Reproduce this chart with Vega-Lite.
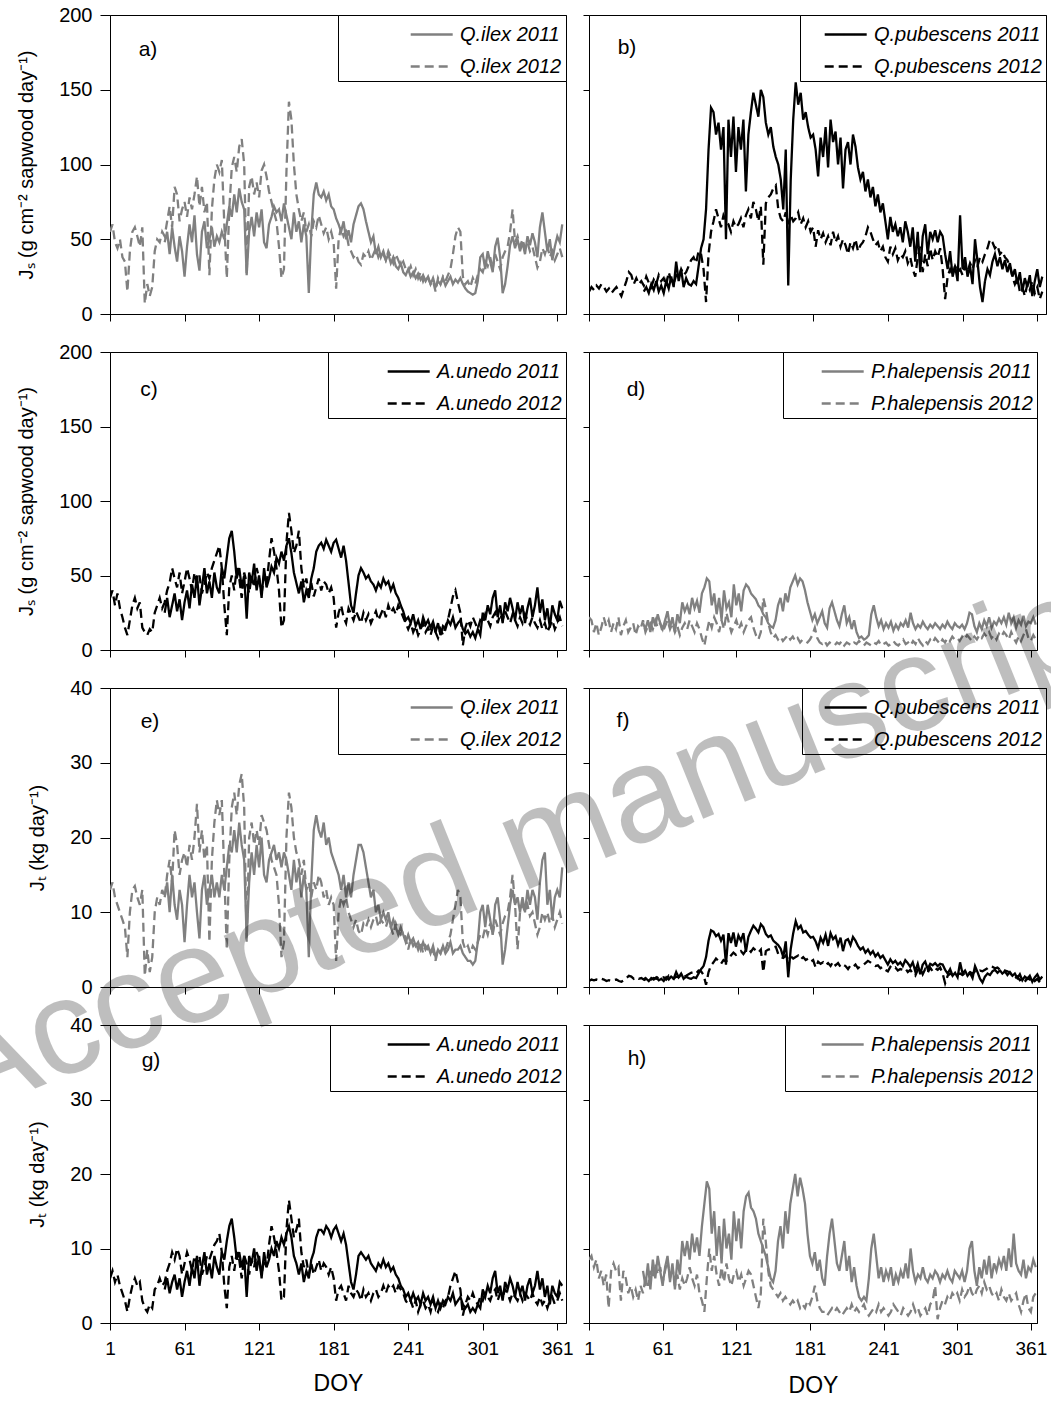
{
"$schema": "https://vega.github.io/schema/vega-lite/v6.json",
"autosize": {"type": "none"},
"padding": {"left": 110, "top": 15, "right": 941, "bottom": 1387},
"background": "white",
"datasets": {"flux": [
{"doy":1,"A":55,"B":15,"C":35,"D":22,"E":13,"F":0.8,"G":6,"H":8.5},
{"doy":3,"A":60,"B":18,"C":40,"D":20,"E":14,"F":1,"G":7,"H":9},
{"doy":5,"A":48,"B":16,"C":30,"D":12,"E":12,"F":0.9,"G":5.5,"H":7.5},
{"doy":7,"A":44,"B":19,"C":38,"D":18,"E":11,"F":1,"G":6.5,"H":8.5},
{"doy":9,"A":50,"B":17,"C":28,"D":10,"E":10,"F":0.9,"G":5,"H":6},
{"doy":11,"A":38,"B":20,"C":22,"D":15,"E":9,"F":1.1,"G":4,"H":7},
{"doy":13,"A":35,"B":18,"C":15,"D":22,"E":8,"F":1,"G":3,"H":5},
{"doy":15,"A":15,"B":15,"C":10,"D":16,"E":4,"F":0.8,"G":1.5,"H":6.5},
{"doy":17,"A":42,"B":17,"C":20,"D":20,"E":10,"F":0.9,"G":3.5,"H":2},
{"doy":19,"A":55,"B":14,"C":30,"D":12,"E":13,"F":0.8,"G":5,"H":7},
{"doy":21,"A":58,"B":16,"C":35,"D":18,"E":13.5,"F":0.9,"G":6,"H":8},
{"doy":23,"A":52,"B":18,"C":28,"D":14,"E":12,"F":1,"G":5,"H":7},
{"doy":25,"A":45,"B":15,"C":32,"D":22,"E":11,"F":0.8,"G":5.5,"H":7.5},
{"doy":27,"A":58,"B":12,"C":15,"D":10,"E":13,"F":0.7,"G":3,"H":3},
{"doy":29,"A":7,"B":17,"C":12,"D":16,"E":1.5,"F":0.9,"G":2,"H":7},
{"doy":31,"A":20,"B":22,"C":10,"D":20,"E":5,"F":1.2,"G":1.5,"H":6},
{"doy":33,"A":12,"B":28,"C":14,"D":12,"E":2,"F":1.5,"G":2.5,"H":4},
{"doy":35,"A":18,"B":26,"C":12,"D":15,"E":4,"F":1.4,"G":2,"H":5},
{"doy":37,"A":42,"B":20,"C":25,"D":18,"E":10,"F":1.1,"G":4.5,"H":3.5},
{"doy":39,"A":50,"B":24,"C":30,"D":10,"E":12,"F":1.3,"G":5,"H":4.5},
{"doy":41,"A":48,"B":20,"C":35,"D":16,"E":11,"F":1.1,"G":6,"H":3},
{"doy":43,"A":55,"B":22,"C":28,"D":14,"E":13,"F":1.2,"G":5,"H":5},
{"doy":45,"a":48,"A":52,"b":15,"B":19,"c":25,"C":32,"d":18,"D":20,"e":12,"E":12,"f":0.9,"F":1,"g":4.5,"G":5.5,"h":7,"H":4},
{"doy":47,"a":55,"A":62,"b":18,"B":25,"c":35,"C":40,"d":14,"D":12,"e":14,"E":15,"f":1.1,"F":1.3,"g":6,"G":7,"h":5,"H":6},
{"doy":49,"a":40,"A":72,"b":14,"B":21,"c":22,"C":45,"d":20,"D":16,"e":10,"E":17,"f":0.8,"F":1.1,"g":4,"G":8,"h":8,"H":5},
{"doy":51,"a":58,"A":58,"b":20,"B":18,"c":30,"C":55,"d":12,"D":18,"e":15,"E":14,"f":1.2,"F":1,"g":5.5,"G":9.5,"h":4.5,"H":7},
{"doy":53,"a":45,"A":85,"b":16,"B":23,"c":38,"C":48,"d":22,"D":14,"e":11,"E":21,"f":1,"F":1.2,"g":6.5,"G":8.5,"h":8.5,"H":6},
{"doy":55,"a":35,"A":80,"b":22,"B":20,"c":26,"C":42,"d":16,"D":20,"e":9,"E":19,"f":1.3,"F":1.1,"g":4.5,"G":10,"h":6,"H":8},
{"doy":57,"a":52,"A":62,"b":15,"B":26,"c":34,"C":52,"d":24,"D":15,"e":13,"E":15,"f":0.9,"F":1.4,"g":6,"G":9,"h":9,"H":6.5},
{"doy":59,"a":42,"A":70,"b":19,"B":22,"c":20,"C":38,"d":18,"D":18,"e":11,"E":17,"f":1.1,"F":1.2,"g":3.5,"G":6.5,"h":7,"H":7.5},
{"doy":61,"a":25,"A":75,"b":14,"B":24,"c":32,"C":46,"d":14,"D":12,"e":6,"E":18,"f":0.8,"F":1.3,"g":5.5,"G":8,"h":5,"H":5.5},
{"doy":63,"a":45,"A":65,"b":22,"B":19,"c":40,"C":55,"d":20,"D":16,"e":11,"E":16,"f":1.3,"F":1,"g":7,"G":9.5,"h":7.5,"H":7},
{"doy":65,"a":60,"A":78,"b":17,"B":28,"c":28,"C":48,"d":26,"D":20,"e":15,"E":19,"f":1,"F":1.5,"g":5,"G":8.5,"h":9,"H":8.5},
{"doy":67,"a":48,"A":70,"b":25,"B":22,"c":44,"C":40,"d":15,"D":14,"e":12,"E":17,"f":1.4,"F":1.2,"g":7.5,"G":7,"h":5.5,"H":6},
{"doy":69,"a":66,"A":80,"b":18,"B":20,"c":35,"C":52,"d":22,"D":18,"e":14,"E":20,"f":1.1,"F":1.1,"g":6,"G":9,"h":8,"H":7.5},
{"doy":71,"a":40,"A":92,"b":35,"B":26,"c":50,"C":45,"d":12,"D":12,"e":10,"E":24.5,"f":2,"F":1.4,"g":9,"G":8,"h":4.5,"H":5},
{"doy":73,"a":29,"A":72,"b":22,"B":24,"c":30,"C":50,"d":24,"D":16,"e":6.5,"E":18,"f":1.3,"F":1.3,"g":5,"G":9,"h":8.5,"H":6.5},
{"doy":75,"a":55,"A":85,"b":30,"B":30,"c":42,"C":38,"d":18,"D":10,"e":13,"E":21,"f":1.8,"F":1.6,"g":7.5,"G":6.5,"h":6.5,"H":4.5},
{"doy":77,"a":62,"A":68,"b":18,"B":26,"c":55,"C":44,"d":32,"D":15,"e":15,"E":17,"f":1.1,"F":1.4,"g":9.5,"G":7.5,"h":11,"H":6},
{"doy":79,"a":44,"A":75,"b":24,"B":28,"c":38,"C":52,"d":26,"D":18,"e":11,"E":19,"f":1.4,"F":1.5,"g":6.5,"G":9,"h":9,"H":5},
{"doy":81,"a":50,"A":26,"b":20,"B":32,"c":46,"C":48,"d":30,"D":14,"e":13,"E":6,"f":1.2,"F":1.7,"g":8,"G":8.5,"h":11,"H":6},
{"doy":83,"a":58,"A":70,"b":19,"B":36,"c":35,"C":55,"d":24,"D":20,"e":15,"E":17,"f":1.1,"F":1.9,"g":6,"G":9.5,"h":8.5,"H":7.5},
{"doy":85,"a":45,"A":90,"b":22,"B":38,"c":52,"C":60,"d":35,"D":16,"e":12,"E":22,"f":1.3,"F":2,"g":9,"G":10.5,"h":12,"H":6},
{"doy":87,"a":52,"A":100,"b":20,"B":34,"c":42,"C":65,"d":28,"D":12,"e":14,"E":25,"f":1.2,"F":1.8,"g":7.5,"G":11,"h":9.5,"H":5},
{"doy":89,"a":48,"A":95,"b":32,"B":42,"c":38,"C":70,"d":33,"D":18,"e":12,"E":23,"f":1.8,"F":2.2,"g":6.5,"G":12,"h":11.5,"H":6.5},
{"doy":91,"a":55,"A":103,"b":44,"B":40,"c":55,"C":55,"d":25,"D":14,"e":15,"E":25,"f":2.4,"F":2.1,"g":9.5,"G":9.5,"h":9,"H":4},
{"doy":93,"a":50,"A":60,"b":50,"B":30,"c":48,"C":30,"d":38,"D":8,"e":13,"E":15,"f":2.8,"F":1.6,"g":8.5,"G":5,"h":13,"H":3},
{"doy":95,"a":60,"A":24,"b":70,"B":8,"c":62,"C":10,"d":42,"D":3,"e":16,"E":5,"f":4,"F":0.3,"g":11,"G":2,"h":16,"H":1.5},
{"doy":97,"a":72,"A":70,"b":110,"B":40,"c":75,"C":42,"d":48,"D":12,"e":19,"E":17,"f":6.2,"F":2,"g":13,"G":7.5,"h":19,"H":6},
{"doy":99,"a":65,"A":98,"b":138,"B":55,"c":80,"C":50,"d":46,"D":20,"e":18,"E":24,"f":7.6,"F":2.9,"g":14,"G":9,"h":18,"H":10},
{"doy":101,"a":80,"A":105,"b":135,"B":62,"c":66,"C":40,"d":30,"D":15,"e":21,"E":26,"f":7.4,"F":3.3,"g":11.5,"G":7,"h":12,"H":7},
{"doy":103,"a":68,"A":95,"b":120,"B":70,"c":48,"C":55,"d":38,"D":22,"e":18,"E":23,"f":6.8,"F":3.8,"g":8.5,"G":9.5,"h":15,"H":9},
{"doy":105,"a":84,"A":112,"b":128,"B":64,"c":55,"C":48,"d":24,"D":18,"e":22,"E":27,"f":7.1,"F":3.5,"g":9.5,"G":8.5,"h":9,"H":6.5},
{"doy":107,"a":75,"A":117,"b":110,"B":58,"c":42,"C":35,"d":35,"D":12,"e":19,"E":28.5,"f":6.2,"F":3.1,"g":7.5,"G":6,"h":13,"H":5},
{"doy":109,"a":70,"A":100,"b":125,"B":66,"c":50,"C":52,"d":20,"D":20,"e":17,"E":24,"f":7,"F":3.6,"g":9,"G":9,"h":8,"H":7.5},
{"doy":111,"a":26,"A":26,"b":50,"B":62,"c":21,"C":45,"d":40,"D":14,"e":6.5,"E":6,"f":3,"F":3.4,"g":3.5,"G":8,"h":14,"H":5.5},
{"doy":113,"a":55,"A":85,"b":130,"B":60,"c":52,"C":38,"d":28,"D":25,"e":14,"E":20,"f":7.2,"F":3.8,"g":9,"G":6.5,"h":10,"H":8},
{"doy":115,"a":65,"A":92,"b":105,"B":55,"c":45,"C":50,"d":32,"D":18,"e":18,"E":22,"f":5.9,"F":4.2,"g":8,"G":8.5,"h":12,"H":6},
{"doy":117,"a":52,"A":80,"b":132,"B":62,"c":58,"C":42,"d":22,"D":12,"e":15,"E":19,"f":7.3,"F":4.6,"g":10,"G":7.5,"h":8.5,"H":5},
{"doy":119,"a":68,"A":88,"b":95,"B":58,"c":40,"C":55,"d":44,"D":16,"e":19,"E":21,"f":5.4,"F":4.3,"g":7,"G":9.5,"h":15,"H":6.5},
{"doy":121,"a":58,"A":78,"b":125,"B":60,"c":50,"C":48,"d":30,"D":20,"e":16,"E":19,"f":6.9,"F":4.5,"g":9,"G":8.5,"h":11,"H":7},
{"doy":123,"a":70,"A":96,"b":110,"B":64,"c":35,"C":38,"d":38,"D":14,"e":20,"E":23,"f":6.2,"F":4.8,"g":6,"G":6.5,"h":14,"H":5.5},
{"doy":125,"a":48,"A":100,"b":130,"B":58,"c":55,"C":50,"d":26,"D":18,"e":15,"E":22,"f":7.2,"F":4.4,"g":9.5,"G":8.5,"h":10,"H":6.5},
{"doy":127,"a":44,"A":92,"b":82,"B":66,"c":42,"C":44,"d":40,"D":12,"e":14,"E":21,"f":4.7,"F":4.9,"g":7.5,"G":7.5,"h":15,"H":5},
{"doy":129,"a":60,"A":82,"b":120,"B":70,"c":48,"C":60,"d":44,"D":16,"e":17,"E":19,"f":6.7,"F":5.1,"g":8.5,"G":10.5,"h":17,"H":6},
{"doy":131,"a":65,"A":75,"b":135,"B":64,"c":56,"C":75,"d":42,"D":20,"e":18,"E":17,"f":7.5,"F":4.7,"g":10,"G":13,"h":17.5,"H":7},
{"doy":133,"a":72,"A":68,"b":148,"B":75,"c":52,"C":66,"d":38,"D":22,"e":19,"E":16,"f":8.2,"F":5.2,"g":9,"G":11.5,"h":15.5,"H":6.5},
{"doy":135,"a":68,"A":62,"b":140,"B":70,"c":62,"C":55,"d":36,"D":15,"e":17,"E":15,"f":7.8,"F":4.9,"g":11,"G":9.5,"h":15,"H":5},
{"doy":137,"a":70,"A":45,"b":132,"B":62,"c":58,"C":40,"d":34,"D":10,"e":18,"E":11,"f":7.3,"F":4.6,"g":10,"G":7,"h":14,"H":3.5},
{"doy":139,"a":62,"A":24,"b":150,"B":72,"c":66,"C":15,"d":30,"D":7,"e":16,"E":4,"f":8.4,"F":5,"g":11.5,"G":3,"h":12,"H":2},
{"doy":141,"a":74,"A":30,"b":145,"B":33,"c":60,"C":20,"d":28,"D":12,"e":18,"E":6,"f":8,"F":2,"g":10.5,"G":3.5,"h":11,"H":4},
{"doy":143,"a":66,"A":95,"b":128,"B":74,"c":70,"C":72,"d":24,"D":35,"e":17,"E":20,"f":7.1,"F":4.8,"g":12,"G":12.5,"h":10,"H":14},
{"doy":145,"a":58,"A":142,"b":120,"B":78,"c":75,"C":92,"d":22,"D":28,"e":15,"E":26,"f":6.7,"F":5,"g":13,"G":16.5,"h":9,"H":11},
{"doy":147,"a":50,"A":130,"b":125,"B":80,"c":65,"C":80,"d":18,"D":18,"e":13,"E":24,"f":6.9,"F":5.1,"g":11.5,"G":14,"h":7.5,"H":7},
{"doy":149,"a":68,"A":100,"b":112,"B":84,"c":52,"C":65,"d":16,"D":12,"e":17,"E":20,"f":6.2,"F":5.3,"g":9,"G":11.5,"h":6,"H":5},
{"doy":151,"a":55,"A":80,"b":105,"B":86,"c":45,"C":70,"d":15,"D":8,"e":14,"E":18,"f":5.9,"F":5.4,"g":8,"G":12.5,"h":5.5,"H":4.5},
{"doy":153,"a":62,"A":70,"b":100,"B":70,"c":38,"C":80,"d":20,"D":10,"e":16,"E":17,"f":5.6,"F":4.4,"g":6.5,"G":14,"h":7,"H":4},
{"doy":155,"a":48,"A":62,"b":90,"B":64,"c":46,"C":55,"d":30,"D":7,"e":12,"E":15,"f":5.1,"F":4,"g":8,"G":9.5,"h":11,"H":3.5},
{"doy":157,"a":60,"A":68,"b":70,"B":62,"c":32,"C":42,"d":35,"D":9,"e":15,"E":17,"f":4,"F":3.9,"g":5.5,"G":7.5,"h":13,"H":4},
{"doy":159,"a":52,"A":55,"b":110,"B":68,"c":40,"C":48,"d":26,"D":6,"e":13,"E":13,"f":6.1,"F":4.2,"g":7,"G":8.5,"h":10,"H":3},
{"doy":161,"a":14,"A":60,"b":19,"B":60,"c":35,"C":38,"d":38,"D":8,"e":4,"E":14,"f":1.3,"F":3.7,"g":6,"G":6.5,"h":15,"H":3.5},
{"doy":163,"a":55,"A":52,"b":90,"B":66,"c":48,"C":45,"d":32,"D":10,"e":14,"E":12,"f":5.1,"F":4.1,"g":8.5,"G":8,"h":12,"H":3},
{"doy":165,"a":80,"A":62,"b":130,"B":62,"c":55,"C":36,"d":42,"D":7,"e":21,"E":14,"f":7.2,"F":3.8,"g":9.5,"G":6.5,"h":16,"H":2.5},
{"doy":167,"a":88,"A":58,"b":155,"B":64,"c":66,"C":42,"d":46,"D":9,"e":23,"E":13,"f":8.8,"F":4,"g":11.5,"G":7.5,"h":18,"H":3},
{"doy":169,"a":80,"A":66,"b":140,"B":68,"c":70,"C":48,"d":50,"D":6,"e":21,"E":15,"f":7.8,"F":4.2,"g":12.5,"G":8.5,"h":20,"H":2.5},
{"doy":171,"a":78,"A":60,"b":148,"B":60,"c":72,"C":40,"d":44,"D":8,"e":20,"E":14,"f":8.2,"F":3.7,"g":12.5,"G":7,"h":17,"H":3},
{"doy":173,"a":82,"A":54,"b":130,"B":64,"c":68,"C":46,"d":48,"D":5,"e":22,"E":12,"f":7.3,"F":4,"g":12,"G":8,"h":19.5,"H":2},
{"doy":175,"a":76,"A":58,"b":135,"B":58,"c":74,"C":44,"d":46,"D":7,"e":19,"E":13,"f":7.5,"F":3.6,"g":13,"G":7.5,"h":18,"H":2.5},
{"doy":177,"a":80,"A":50,"b":125,"B":62,"c":70,"C":38,"d":40,"D":6,"e":20,"E":11,"f":7,"F":3.8,"g":12.5,"G":6.5,"h":16,"H":2},
{"doy":179,"a":72,"A":55,"b":118,"B":55,"c":66,"C":42,"d":32,"D":5,"e":18,"E":12,"f":6.6,"F":3.4,"g":11.5,"G":7.5,"h":12,"H":3},
{"doy":181,"a":70,"A":48,"b":120,"B":58,"c":72,"C":35,"d":26,"D":7,"e":17,"E":11,"f":6.7,"F":3.6,"g":12.5,"G":6,"h":9,"H":2.5},
{"doy":183,"a":64,"A":17,"b":110,"B":45,"c":74,"C":15,"d":20,"D":10,"e":16,"E":3.5,"f":6.1,"F":2.6,"g":13,"G":3,"h":8,"H":3.5},
{"doy":185,"a":60,"A":50,"b":92,"B":56,"c":68,"C":25,"d":24,"D":15,"e":15,"E":10,"f":5.2,"F":3.4,"g":12,"G":4.5,"h":9.5,"H":5},
{"doy":187,"a":55,"A":58,"b":118,"B":50,"c":62,"C":30,"d":18,"D":8,"e":13,"E":12,"f":6.6,"F":3.1,"g":11,"G":5,"h":7,"H":3},
{"doy":189,"a":62,"A":52,"b":105,"B":54,"c":70,"C":22,"d":22,"D":5,"e":15,"E":11,"f":5.9,"F":3.3,"g":12,"G":4,"h":8.5,"H":2},
{"doy":191,"a":50,"A":55,"b":125,"B":48,"c":60,"C":18,"d":26,"D":4,"e":12,"E":12,"f":7,"F":2.9,"g":10.5,"G":3,"h":6,"H":1.5},
{"doy":193,"a":56,"A":46,"b":98,"B":52,"c":45,"C":28,"d":18,"D":6,"e":14,"E":10,"f":5.5,"F":3.2,"g":8,"G":5,"h":5,"H":1.5},
{"doy":195,"a":48,"A":42,"b":130,"B":46,"c":30,"C":24,"d":15,"D":3,"e":12,"E":9,"f":7.2,"F":2.8,"g":5.5,"G":4,"h":9,"H":1},
{"doy":197,"a":60,"A":38,"b":115,"B":55,"c":25,"C":20,"d":28,"D":5,"e":15,"E":8,"f":6.4,"F":3.4,"g":4.5,"G":3.5,"h":12,"H":1.5},
{"doy":199,"a":66,"A":40,"b":122,"B":48,"c":38,"C":26,"d":32,"D":4,"e":17,"E":9,"f":6.8,"F":2.9,"g":6.5,"G":4.5,"h":14,"H":2},
{"doy":201,"a":72,"A":35,"b":100,"B":52,"c":50,"C":22,"d":26,"D":3,"e":19,"E":7.5,"f":5.6,"F":3.2,"g":9,"G":4,"h":11,"H":1.5},
{"doy":203,"a":74,"A":33,"b":118,"B":45,"c":55,"C":18,"d":20,"D":5,"e":19,"E":7,"f":6.6,"F":2.7,"g":9.5,"G":3,"h":8,"H":2},
{"doy":205,"a":70,"A":40,"b":84,"B":50,"c":52,"C":25,"d":16,"D":4,"e":18,"E":8.5,"f":4.8,"F":3,"g":9,"G":4.5,"h":7,"H":1.5},
{"doy":207,"a":62,"A":38,"b":110,"B":46,"c":48,"C":20,"d":24,"D":6,"e":16,"E":8,"f":6.2,"F":2.8,"g":8.5,"G":3.5,"h":9,"H":1},
{"doy":209,"a":55,"A":42,"b":115,"B":40,"c":50,"C":24,"d":30,"D":3,"e":14,"E":9,"f":6.4,"F":2.4,"g":9,"G":4,"h":11,"H":1.5},
{"doy":211,"a":48,"A":36,"b":100,"B":48,"c":46,"C":18,"d":18,"D":5,"e":12,"E":8,"f":5.6,"F":2.9,"g":8,"G":3,"h":7,"H":2},
{"doy":213,"a":52,"A":40,"b":120,"B":44,"c":44,"C":22,"d":22,"D":4,"e":13,"E":9,"f":6.7,"F":2.7,"g":7.5,"G":4,"h":9,"H":1.5},
{"doy":215,"a":40,"A":44,"b":112,"B":50,"c":40,"C":26,"d":14,"D":3,"e":10,"E":9.5,"f":6.2,"F":3,"g":7,"G":4.5,"h":5.5,"H":2.5},
{"doy":217,"a":45,"A":38,"b":98,"B":42,"c":45,"C":20,"d":20,"D":5,"e":11,"E":8,"f":5.5,"F":2.5,"g":8,"G":3.5,"h":7.5,"H":1.5},
{"doy":219,"a":38,"A":42,"b":90,"B":46,"c":42,"C":24,"d":12,"D":4,"e":9,"E":9,"f":5,"F":2.8,"g":7.5,"G":4,"h":5,"H":2},
{"doy":221,"a":42,"A":40,"b":95,"B":48,"c":48,"C":28,"d":8,"D":6,"e":10,"E":8.5,"f":5.3,"F":2.9,"g":8.5,"G":5,"h":3.5,"H":1.5},
{"doy":223,"a":36,"A":36,"b":82,"B":52,"c":44,"C":22,"d":9,"D":4,"e":9,"E":8,"f":4.6,"F":3.2,"g":7.5,"G":4,"h":3,"H":2},
{"doy":225,"a":40,"A":42,"b":90,"B":58,"c":46,"C":30,"d":7,"D":3,"e":10,"E":9,"f":5,"F":3.5,"g":8,"G":5,"h":3.5,"H":2.5},
{"doy":227,"a":34,"A":38,"b":78,"B":55,"c":40,"C":25,"d":8,"D":5,"e":8,"E":8,"f":4.4,"F":3.3,"g":7,"G":4.5,"h":3,"H":1.5},
{"doy":229,"a":38,"A":34,"b":85,"B":50,"c":44,"C":28,"d":10,"D":4,"e":9,"E":7,"f":4.8,"F":3,"g":7.5,"G":5,"h":6,"H":1},
{"doy":231,"a":32,"A":40,"b":72,"B":46,"c":38,"C":24,"d":24,"D":3,"e":8,"E":8.5,"f":4.1,"F":2.8,"g":6.5,"G":4,"h":10,"H":1.5},
{"doy":233,"a":30,"A":36,"b":80,"B":48,"c":35,"C":30,"d":30,"D":5,"e":7,"E":7.5,"f":4.5,"F":2.9,"g":6,"G":5,"h":12,"H":2},
{"doy":235,"a":34,"A":32,"b":68,"B":42,"c":30,"C":26,"d":22,"D":4,"e":8,"E":7,"f":3.9,"F":2.5,"g":5,"G":4.5,"h":9,"H":1.5},
{"doy":237,"a":28,"A":35,"b":74,"B":45,"c":26,"C":22,"d":16,"D":6,"e":7,"E":7.5,"f":4.2,"F":2.7,"g":4.5,"G":4,"h":6,"H":2.5},
{"doy":239,"a":26,"A":30,"b":62,"B":38,"c":20,"C":18,"d":20,"D":3,"e":6,"E":6.5,"f":3.6,"F":2.3,"g":3.5,"G":3,"h":7.5,"H":1.5},
{"doy":241,"a":30,"A":28,"b":50,"B":35,"c":22,"C":14,"d":14,"D":4,"e":7,"E":5,"f":3,"F":2.1,"g":4,"G":2.5,"h":5.5,"H":2},
{"doy":243,"a":25,"A":32,"b":65,"B":45,"c":18,"C":18,"d":18,"D":5,"e":6,"E":6.5,"f":3.7,"F":2.7,"g":3,"G":3,"h":7,"H":1.5},
{"doy":245,"a":28,"A":26,"b":55,"B":40,"c":24,"C":12,"d":15,"D":3,"e":6.5,"E":5.5,"f":3.2,"F":2.4,"g":4,"G":2,"h":6,"H":1},
{"doy":247,"a":24,"A":30,"b":60,"B":44,"c":16,"C":16,"d":19,"D":4,"e":5.5,"E":6,"f":3.5,"F":2.6,"g":3,"G":3,"h":7.5,"H":1.5},
{"doy":249,"a":27,"A":24,"b":52,"B":36,"c":20,"C":10,"d":13,"D":6,"e":6,"E":5,"f":3,"F":2.2,"g":3.5,"G":1.5,"h":5,"H":2.5},
{"doy":251,"a":23,"A":28,"b":58,"B":40,"c":14,"C":14,"d":17,"D":4,"e":5,"E":6,"f":3.3,"F":2.4,"g":2.5,"G":2.5,"h":6.5,"H":2},
{"doy":253,"a":26,"A":22,"b":48,"B":38,"c":22,"C":18,"d":14,"D":3,"e":6,"E":4.5,"f":2.8,"F":2.3,"g":4,"G":3,"h":5.5,"H":1.5},
{"doy":255,"a":22,"A":26,"b":62,"B":42,"c":17,"C":12,"d":18,"D":5,"e":5,"E":5.5,"f":3.6,"F":2.5,"g":3,"G":2,"h":7,"H":1},
{"doy":257,"a":25,"A":24,"b":55,"B":34,"c":20,"C":15,"d":16,"D":7,"e":5.5,"E":5,"f":3.2,"F":2,"g":3.5,"G":2.5,"h":6,"H":2},
{"doy":259,"a":20,"A":20,"b":45,"B":38,"c":15,"C":10,"d":20,"D":4,"e":4.5,"E":4.5,"f":2.7,"F":2.3,"g":2.5,"G":1.5,"h":8,"H":1.5},
{"doy":261,"a":24,"A":22,"b":58,"B":30,"c":19,"C":16,"d":15,"D":5,"e":5.5,"E":5,"f":3.3,"F":1.8,"g":3.5,"G":3,"h":6,"H":1},
{"doy":263,"a":18,"A":15,"b":35,"B":25,"c":12,"C":12,"d":25,"D":3,"e":4,"E":3.5,"f":2.1,"F":1.5,"g":2,"G":2,"h":10,"H":1.5},
{"doy":265,"a":22,"A":24,"b":55,"B":38,"c":18,"C":8,"d":18,"D":6,"e":5,"E":5,"f":3.1,"F":2.3,"g":3,"G":1.5,"h":7,"H":2.5},
{"doy":267,"a":20,"A":20,"b":28,"B":45,"c":10,"C":14,"d":14,"D":4,"e":4.5,"E":4.5,"f":1.7,"F":2.6,"g":2,"G":2.5,"h":5.5,"H":1.5},
{"doy":269,"a":24,"A":25,"b":52,"B":28,"c":16,"C":10,"d":17,"D":8,"e":5.5,"E":5.5,"f":3,"F":1.7,"g":3,"G":2,"h":6.5,"H":2},
{"doy":271,"a":19,"A":22,"b":60,"B":40,"c":14,"C":16,"d":15,"D":5,"e":4.5,"E":5,"f":3.4,"F":2.4,"g":2.5,"G":3,"h":6,"H":1},
{"doy":273,"a":22,"A":26,"b":40,"B":32,"c":20,"C":20,"d":19,"D":3,"e":5,"E":6,"f":2.4,"F":1.9,"g":3.5,"G":3.5,"h":7.5,"H":1.5},
{"doy":275,"a":25,"A":30,"b":55,"B":44,"c":17,"C":28,"d":16,"D":6,"e":6,"E":7,"f":3.1,"F":2.6,"g":3,"G":5,"h":6,"H":2},
{"doy":277,"a":20,"A":40,"b":50,"B":36,"c":22,"C":36,"d":14,"D":4,"e":4.5,"E":9,"f":2.9,"F":2.1,"g":4,"G":6,"h":5.5,"H":1},
{"doy":279,"a":23,"A":52,"b":56,"B":42,"c":15,"C":40,"d":17,"D":7,"e":5,"E":11,"f":3.2,"F":2.5,"g":2.5,"G":7,"h":6.5,"H":2.5},
{"doy":281,"a":21,"A":58,"b":48,"B":38,"c":18,"C":32,"d":15,"D":5,"e":5,"E":13,"f":2.8,"F":2.3,"g":3,"G":5.5,"h":6,"H":3},
{"doy":283,"a":24,"A":55,"b":55,"B":44,"c":20,"C":25,"d":18,"D":8,"e":5.5,"E":12,"f":3.1,"F":2.6,"g":3.5,"G":4.5,"h":7,"H":5},
{"doy":285,"a":20,"A":25,"b":52,"B":30,"c":14,"C":3,"d":16,"D":6,"e":4.5,"E":6,"f":3,"F":1.8,"g":2.5,"G":1,"h":6.5,"H":0.5},
{"doy":287,"a":17,"A":20,"b":40,"B":10,"c":11,"C":15,"d":14,"D":4,"e":4,"E":5,"f":2.3,"F":0.5,"g":2,"G":2.5,"h":5.5,"H":2},
{"doy":289,"a":15,"A":22,"b":30,"B":25,"c":13,"C":20,"d":17,"D":7,"e":3.5,"E":5.5,"f":1.8,"F":1.5,"g":2.5,"G":3.5,"h":6.5,"H":3},
{"doy":291,"a":14,"A":18,"b":42,"B":30,"c":9,"C":16,"d":15,"D":5,"e":3.5,"E":4.5,"f":2.4,"F":1.8,"g":1.5,"G":3,"h":6,"H":2.5},
{"doy":293,"a":13,"A":24,"b":25,"B":26,"c":12,"C":22,"d":19,"D":8,"e":3,"E":5.5,"f":1.5,"F":1.6,"g":2,"G":4,"h":7,"H":3.5},
{"doy":295,"a":14,"A":20,"b":32,"B":32,"c":8,"C":18,"d":16,"D":6,"e":3.5,"E":5,"f":1.9,"F":1.9,"g":1.5,"G":3,"h":6,"H":3},
{"doy":297,"a":22,"A":26,"b":22,"B":28,"c":14,"C":14,"d":14,"D":9,"e":6,"E":6,"f":1.3,"F":1.7,"g":2.5,"G":2.5,"h":5.5,"H":4},
{"doy":299,"a":38,"A":30,"b":66,"B":30,"c":10,"C":20,"d":18,"D":7,"e":10,"E":7,"f":3.3,"F":1.8,"g":2,"G":3.5,"h":7,"H":3.5},
{"doy":301,"a":40,"A":28,"b":30,"B":26,"c":25,"C":18,"d":16,"D":8,"e":11,"E":6.5,"f":1.8,"F":1.6,"g":4.5,"G":3,"h":6.5,"H":4},
{"doy":303,"a":30,"A":35,"b":38,"B":32,"c":20,"C":24,"d":15,"D":6,"e":8,"E":8,"f":2.2,"F":1.9,"g":3.5,"G":4,"h":6,"H":3},
{"doy":305,"a":42,"A":32,"b":25,"B":28,"c":30,"C":20,"d":17,"D":9,"e":11,"E":7,"f":1.5,"F":1.7,"g":5,"G":3.5,"h":7,"H":4.5},
{"doy":307,"a":35,"A":38,"b":32,"B":34,"c":24,"C":16,"d":14,"D":7,"e":9,"E":8.5,"f":1.9,"F":2,"g":4,"G":3,"h":5.5,"H":3.5},
{"doy":309,"a":28,"A":30,"b":20,"B":30,"c":35,"C":22,"d":18,"D":10,"e":7,"E":7,"f":1.2,"F":1.8,"g":6,"G":4,"h":7,"H":4},
{"doy":311,"a":45,"A":40,"b":50,"B":36,"c":40,"C":25,"d":25,"D":8,"e":11,"E":9,"f":2.8,"F":2.1,"g":7,"G":4.5,"h":10,"H":5},
{"doy":313,"a":51,"A":35,"b":35,"B":32,"c":22,"C":18,"d":24,"D":6,"e":12,"E":8,"f":2,"F":1.9,"g":4,"G":3,"h":11,"H":4},
{"doy":315,"a":38,"A":30,"b":18,"B":38,"c":30,"C":24,"d":16,"D":9,"e":9,"E":7,"f":1.1,"F":2.2,"g":5,"G":4,"h":7,"H":3.5},
{"doy":317,"a":14,"A":38,"b":8,"B":35,"c":18,"C":20,"d":12,"D":7,"e":3,"E":8.5,"f":0.6,"F":2.1,"g":3,"G":3.5,"h":5,"H":4.5},
{"doy":319,"a":20,"A":42,"b":22,"B":40,"c":32,"C":26,"d":18,"D":10,"e":5,"E":9.5,"f":1.4,"F":2.3,"g":5.5,"G":4.5,"h":7.5,"H":5},
{"doy":321,"a":32,"A":45,"b":30,"B":44,"c":26,"C":22,"d":14,"D":8,"e":8,"E":10,"f":1.8,"F":2.5,"g":4.5,"G":4,"h":6,"H":4},
{"doy":323,"a":46,"A":55,"b":26,"B":50,"c":35,"C":18,"d":20,"D":11,"e":11,"E":12,"f":1.6,"F":2.8,"g":6,"G":3,"h":8.5,"H":5.5},
{"doy":325,"a":52,"A":70,"b":35,"B":48,"c":28,"C":24,"d":16,"D":9,"e":13,"E":15,"f":2.1,"F":2.7,"g":5,"G":4,"h":6.5,"H":4.5},
{"doy":327,"a":44,"A":48,"b":40,"B":44,"c":20,"C":20,"d":22,"D":12,"e":11,"E":11,"f":2.3,"F":2.5,"g":3.5,"G":3.5,"h":9,"H":5},
{"doy":329,"a":50,"A":52,"b":32,"B":46,"c":32,"C":16,"d":15,"D":8,"e":12,"E":5,"f":1.9,"F":2.6,"g":5.5,"G":3,"h":6,"H":4},
{"doy":331,"a":42,"A":45,"b":38,"B":40,"c":24,"C":22,"d":19,"D":10,"e":10,"E":10,"f":2.2,"F":2.3,"g":4,"G":4,"h":8,"H":3.5},
{"doy":333,"a":48,"A":50,"b":30,"B":42,"c":30,"C":18,"d":17,"D":7,"e":12,"E":11,"f":1.8,"F":2.4,"g":5,"G":3,"h":7,"H":4},
{"doy":335,"a":40,"A":44,"b":36,"B":38,"c":18,"C":24,"d":21,"D":11,"e":10,"E":10,"f":2.1,"F":2.2,"g":3,"G":4,"h":8.5,"H":3},
{"doy":337,"a":52,"A":48,"b":28,"B":36,"c":28,"C":20,"d":18,"D":9,"e":13,"E":11,"f":1.6,"F":2.1,"g":5,"G":3.5,"h":7.5,"H":4.5},
{"doy":339,"a":46,"A":42,"b":34,"B":32,"c":35,"C":17,"d":22,"D":12,"e":11,"E":9.5,"f":2,"F":1.9,"g":6,"G":3,"h":9,"H":3.5},
{"doy":341,"a":54,"A":45,"b":25,"B":25,"c":22,"C":22,"d":17,"D":10,"e":13,"E":10,"f":1.5,"F":1.5,"g":4,"G":4,"h":7,"H":3},
{"doy":343,"a":48,"A":38,"b":30,"B":20,"c":30,"C":18,"d":25,"D":7,"e":12,"E":8.5,"f":1.8,"F":1.2,"g":5,"G":3,"h":10,"H":4},
{"doy":345,"a":38,"A":31,"b":20,"B":24,"c":42,"C":15,"d":18,"D":12,"e":9,"E":7,"f":1.2,"F":1.4,"g":7,"G":2.5,"h":7.5,"H":3},
{"doy":347,"a":58,"A":35,"b":28,"B":15,"c":25,"C":20,"d":22,"D":8,"e":14,"E":8,"f":1.7,"F":0.9,"g":4.5,"G":3.5,"h":12,"H":3.5},
{"doy":349,"a":68,"A":44,"b":15,"B":18,"c":34,"C":14,"d":15,"D":5,"e":17,"E":10,"f":0.9,"F":1.1,"g":6,"G":2.5,"h":8,"H":4},
{"doy":351,"a":55,"A":40,"b":24,"B":12,"c":20,"C":18,"d":20,"D":9,"e":18,"E":9,"f":1.4,"F":0.7,"g":3.5,"G":3,"h":7,"H":2.5},
{"doy":353,"a":42,"A":46,"b":18,"B":20,"c":28,"C":12,"d":17,"D":6,"e":11,"E":10,"f":1.1,"F":1.2,"g":5,"G":2,"h":6.5,"H":1.5},
{"doy":355,"a":50,"A":38,"b":26,"B":16,"c":15,"C":16,"d":23,"D":10,"e":13,"E":8.5,"f":1.5,"F":1,"g":2.5,"G":3,"h":8.5,"H":3},
{"doy":357,"a":36,"A":42,"b":12,"B":22,"c":30,"C":20,"d":16,"D":14,"e":9,"E":9.5,"f":0.7,"F":1.3,"g":5,"G":3.5,"h":6,"H":4},
{"doy":359,"a":45,"A":36,"b":22,"B":14,"c":24,"C":14,"d":19,"D":8,"e":12,"E":8,"f":1.3,"F":0.8,"g":4,"G":2.5,"h":7.5,"H":2},
{"doy":361,"a":52,"A":40,"b":30,"B":18,"c":20,"C":18,"d":18,"D":6,"e":13,"E":9,"f":1.7,"F":1.1,"g":3.5,"G":3,"h":7,"H":1.5},
{"doy":363,"a":48,"A":44,"b":18,"B":10,"c":33,"C":22,"d":22,"D":10,"e":12,"E":10,"f":1,"F":0.6,"g":5.5,"G":4,"h":8.5,"H":3.5},
{"doy":365,"a":60,"A":38,"b":25,"B":15,"c":28,"C":16,"d":17,"D":7,"e":16,"E":8.5,"f":1.4,"F":0.9,"g":5,"G":3,"h":7.5,"H":4}
]},
"config": {
  "view": {"stroke": "black", "strokeWidth": 1},
  "font": "Liberation Sans",
  "axis": {"grid": false, "domainColor": "black", "domainWidth": 1, "tickColor": "black", "tickWidth": 1, "labelColor": "black", "labelFont": "Liberation Sans", "labelFontSize": 19, "titleColor": "black", "titleFont": "Liberation Sans", "titleFontSize": 20, "titleFontWeight": "normal", "labelFlush": false, "labelOverlap": false},
  "axisY": {"labelFontSize": 20},
  "legend": {"orient": "top-right", "offset": 0, "strokeColor": "black", "fillColor": "white", "padding": 4, "cornerRadius": 0, "labelFont": "Liberation Sans", "labelFontSize": 20, "labelFontStyle": "italic", "labelColor": "black", "labelLimit": 400, "labelOffset": 3, "symbolSize": 784, "symbolStrokeWidth": 2.3, "symbolFillColor": "transparent", "rowPadding": 6},
  "text": {"font": "Liberation Sans", "fontSize": 21, "color": "black", "align": "center", "baseline": "middle"}
},
"columns": 2,
"spacing": {"row": 38, "column": 23},
"bounds": "flush",
"resolve": {"scale": {"strokeDash": "independent"}, "legend": {"strokeDash": "independent"}},
"concat": [
    {"width": 456, "height": 299, "layer": [
     {"data": {"name": "flux"}, "transform": [{"fold": ["a", "A"], "as": ["k", "v"]}],
      "mark": {"type": "line", "color": "#808080", "strokeWidth": 2.3, "clip": true},
      "encoding": {
       "x": {"field": "doy", "type": "quantitative", "scale": {"domain": [1, 368], "nice": false, "zero": false}, "axis": {"values": [1,16,31,46,61,76,91,106,121,136,151,166,181,196,211,226,241,256,271,286,301,316,331,346,361], "labels": false, "title": null, "tickSize": 7}},
       "y": {"field": "v", "type": "quantitative", "scale": {"domain": [0, 200], "nice": false}, "axis": {"values": [0,50,100,150,200], "tickSize": 10, "labelPadding": 8, "title": "Jₛ (g cm⁻² sapwood day⁻¹)", "titlePadding": 22}},
       "strokeDash": {"field": "k", "type": "nominal", "scale": {"domain": ["a", "A"], "range": [[1, 0], [9, 5]]}, "legend": {"title": null, "labelExpr": "datum.label == 'a' ? 'Q.ilex 2011' : 'Q.ilex 2012'", "symbolType": "M-2.2,0H0.8", "symbolStrokeColor": "#808080", "symbolOffset": 84}}
      }},
     {"data": {"values": [{}]}, "mark": {"type": "text"}, "encoding": {"x": {"datum": 31.6}, "y": {"datum": 176.6}, "text": {"value": "a)"}}}
    ]},
    {"width": 457, "height": 299, "layer": [
     {"data": {"name": "flux"}, "transform": [{"fold": ["b", "B"], "as": ["k", "v"]}],
      "mark": {"type": "line", "color": "black", "strokeWidth": 2.3, "clip": true},
      "encoding": {
       "x": {"field": "doy", "type": "quantitative", "scale": {"domain": [1, 368], "nice": false, "zero": false}, "axis": {"values": [1,16,31,46,61,76,91,106,121,136,151,166,181,196,211,226,241,256,271,286,301,316,331,346,361], "labels": false, "title": null, "tickSize": 7}},
       "y": {"field": "v", "type": "quantitative", "scale": {"domain": [0, 200], "nice": false}, "axis": {"values": [0,50,100,150,200], "tickSize": 6, "labels": false, "title": null}},
       "strokeDash": {"field": "k", "type": "nominal", "scale": {"domain": ["b", "B"], "range": [[1, 0], [9, 5]]}, "legend": {"title": null, "labelExpr": "datum.label == 'b' ? 'Q.pubescens 2011' : 'Q.pubescens 2012'", "symbolType": "M-2.2,0H0.8", "symbolStrokeColor": "black", "symbolOffset": 36}}
      }},
     {"data": {"values": [{}]}, "mark": {"type": "text"}, "encoding": {"x": {"datum": 31.5}, "y": {"datum": 177.9}, "text": {"value": "b)"}}}
    ]},
    {"width": 456, "height": 298, "layer": [
     {"data": {"name": "flux"}, "transform": [{"fold": ["c", "C"], "as": ["k", "v"]}],
      "mark": {"type": "line", "color": "black", "strokeWidth": 2.3, "clip": true},
      "encoding": {
       "x": {"field": "doy", "type": "quantitative", "scale": {"domain": [1, 368], "nice": false, "zero": false}, "axis": {"values": [1,16,31,46,61,76,91,106,121,136,151,166,181,196,211,226,241,256,271,286,301,316,331,346,361], "labels": false, "title": null, "tickSize": 7}},
       "y": {"field": "v", "type": "quantitative", "scale": {"domain": [0, 200], "nice": false}, "axis": {"values": [0,50,100,150,200], "tickSize": 10, "labelPadding": 8, "title": "Jₛ (g cm⁻² sapwood day⁻¹)", "titlePadding": 22}},
       "strokeDash": {"field": "k", "type": "nominal", "scale": {"domain": ["c", "C"], "range": [[1, 0], [9, 5]]}, "legend": {"title": null, "labelExpr": "datum.label == 'c' ? 'A.unedo 2011' : 'A.unedo 2012'", "symbolType": "M-2.2,0H0.8", "symbolStrokeColor": "black", "symbolOffset": 71}}
      }},
     {"data": {"values": [{}]}, "mark": {"type": "text"}, "encoding": {"x": {"datum": 32.4}, "y": {"datum": 174.5}, "text": {"value": "c)"}}}
    ]},
    {"width": 448, "height": 298, "layer": [
     {"data": {"name": "flux"}, "transform": [{"fold": ["d", "D"], "as": ["k", "v"]}],
      "mark": {"type": "line", "color": "#808080", "strokeWidth": 2.3, "clip": true},
      "encoding": {
       "x": {"field": "doy", "type": "quantitative", "scale": {"domain": [1, 366], "nice": false, "zero": false}, "axis": {"values": [1,16,31,46,61,76,91,106,121,136,151,166,181,196,211,226,241,256,271,286,301,316,331,346,361], "labels": false, "title": null, "tickSize": 7}},
       "y": {"field": "v", "type": "quantitative", "scale": {"domain": [0, 200], "nice": false}, "axis": {"values": [0,50,100,150,200], "tickSize": 6, "labels": false, "title": null}},
       "strokeDash": {"field": "k", "type": "nominal", "scale": {"domain": ["d", "D"], "range": [[1, 0], [9, 5]]}, "legend": {"title": null, "labelExpr": "datum.label == 'd' ? 'P.halepensis 2011' : 'P.halepensis 2012'", "symbolType": "M-2.2,0H0.8", "symbolStrokeColor": "#808080", "symbolOffset": 50}}
      }},
     {"data": {"values": [{}]}, "mark": {"type": "text"}, "encoding": {"x": {"datum": 39.3}, "y": {"datum": 174.5}, "text": {"value": "d)"}}}
    ]},
    {"width": 456, "height": 299, "layer": [
     {"data": {"name": "flux"}, "transform": [{"fold": ["e", "E"], "as": ["k", "v"]}],
      "mark": {"type": "line", "color": "#808080", "strokeWidth": 2.3, "clip": true},
      "encoding": {
       "x": {"field": "doy", "type": "quantitative", "scale": {"domain": [1, 368], "nice": false, "zero": false}, "axis": {"values": [1,16,31,46,61,76,91,106,121,136,151,166,181,196,211,226,241,256,271,286,301,316,331,346,361], "labels": false, "title": null, "tickSize": 7}},
       "y": {"field": "v", "type": "quantitative", "scale": {"domain": [0, 40], "nice": false}, "axis": {"values": [0,10,20,30,40], "tickSize": 10, "labelPadding": 8, "title": "Jₜ (kg day⁻¹)", "titlePadding": 22}},
       "strokeDash": {"field": "k", "type": "nominal", "scale": {"domain": ["e", "E"], "range": [[1, 0], [9, 5]]}, "legend": {"title": null, "labelExpr": "datum.label == 'e' ? 'Q.ilex 2011' : 'Q.ilex 2012'", "symbolType": "M-2.2,0H0.8", "symbolStrokeColor": "#808080", "symbolOffset": 84}}
      }},
     {"data": {"values": [{}]}, "mark": {"type": "text"}, "encoding": {"x": {"datum": 33.2}, "y": {"datum": 35.5}, "text": {"value": "e)"}}}
    ]},
    {"width": 457, "height": 299, "layer": [
     {"data": {"name": "flux"}, "transform": [{"fold": ["f", "F"], "as": ["k", "v"]}],
      "mark": {"type": "line", "color": "black", "strokeWidth": 2.3, "clip": true},
      "encoding": {
       "x": {"field": "doy", "type": "quantitative", "scale": {"domain": [1, 368], "nice": false, "zero": false}, "axis": {"values": [1,16,31,46,61,76,91,106,121,136,151,166,181,196,211,226,241,256,271,286,301,316,331,346,361], "labels": false, "title": null, "tickSize": 7}},
       "y": {"field": "v", "type": "quantitative", "scale": {"domain": [0, 40], "nice": false}, "axis": {"values": [0,10,20,30,40], "tickSize": 6, "labels": false, "title": null}},
       "strokeDash": {"field": "k", "type": "nominal", "scale": {"domain": ["f", "F"], "range": [[1, 0], [9, 5]]}, "legend": {"title": null, "labelExpr": "datum.label == 'f' ? 'Q.pubescens 2011' : 'Q.pubescens 2012'", "symbolType": "M-2.2,0H0.8", "symbolStrokeColor": "black", "symbolOffset": 34}}
      }},
     {"data": {"values": [{}]}, "mark": {"type": "text"}, "encoding": {"x": {"datum": 28.3}, "y": {"datum": 35.6}, "text": {"value": "f)"}}}
    ]},
    {"width": 456, "height": 298, "layer": [
     {"data": {"name": "flux"}, "transform": [{"fold": ["g", "G"], "as": ["k", "v"]}],
      "mark": {"type": "line", "color": "black", "strokeWidth": 2.3, "clip": true},
      "encoding": {
       "x": {"field": "doy", "type": "quantitative", "scale": {"domain": [1, 368], "nice": false, "zero": false}, "axis": {"values": [1,16,31,46,61,76,91,106,121,136,151,166,181,196,211,226,241,256,271,286,301,316,331,346,361], "labelExpr": "(datum.value - 1) % 60 == 0 ? datum.label : ''", "tickSize": 7, "labelPadding": 9, "title": "DOY", "titleFontSize": 23, "titlePadding": 14}},
       "y": {"field": "v", "type": "quantitative", "scale": {"domain": [0, 40], "nice": false}, "axis": {"values": [0,10,20,30,40], "tickSize": 10, "labelPadding": 8, "title": "Jₜ (kg day⁻¹)", "titlePadding": 22}},
       "strokeDash": {"field": "k", "type": "nominal", "scale": {"domain": ["g", "G"], "range": [[1, 0], [9, 5]]}, "legend": {"title": null, "labelExpr": "datum.label == 'g' ? 'A.unedo 2011' : 'A.unedo 2012'", "symbolType": "M-2.2,0H0.8", "symbolStrokeColor": "black", "symbolOffset": 69}}
      }},
     {"data": {"values": [{}]}, "mark": {"type": "text"}, "encoding": {"x": {"datum": 34}, "y": {"datum": 35.2}, "text": {"value": "g)"}}}
    ]},
    {"width": 448, "height": 298, "layer": [
     {"data": {"name": "flux"}, "transform": [{"fold": ["h", "H"], "as": ["k", "v"]}],
      "mark": {"type": "line", "color": "#808080", "strokeWidth": 2.3, "clip": true},
      "encoding": {
       "x": {"field": "doy", "type": "quantitative", "scale": {"domain": [1, 366], "nice": false, "zero": false}, "axis": {"values": [1,16,31,46,61,76,91,106,121,136,151,166,181,196,211,226,241,256,271,286,301,316,331,346,361], "labelExpr": "(datum.value - 1) % 60 == 0 ? datum.label : ''", "tickSize": 7, "labelPadding": 9, "title": "DOY", "titleFontSize": 23, "titlePadding": 16}},
       "y": {"field": "v", "type": "quantitative", "scale": {"domain": [0, 40], "nice": false}, "axis": {"values": [0,10,20,30,40], "tickSize": 6, "labels": false, "title": null}},
       "strokeDash": {"field": "k", "type": "nominal", "scale": {"domain": ["h", "H"], "range": [[1, 0], [9, 5]]}, "legend": {"title": null, "labelExpr": "datum.label == 'h' ? 'P.halepensis 2011' : 'P.halepensis 2012'", "symbolType": "M-2.2,0H0.8", "symbolStrokeColor": "#808080", "symbolOffset": 48}}
      }},
     {"data": {"values": [{}]}, "mark": {"type": "text"}, "encoding": {"x": {"datum": 40.1}, "y": {"datum": 35.4}, "text": {"value": "h)"}}},
     {"data": {"values": [{}]}, "mark": {"type": "text", "fontSize": 135, "angle": -22, "color": "black", "opacity": 0.25}, "encoding": {"x": {"datum": -44.6}, "y": {"datum": 64.4}, "text": {"value": "Accepted manuscript"}}}
    ]}
]
}
